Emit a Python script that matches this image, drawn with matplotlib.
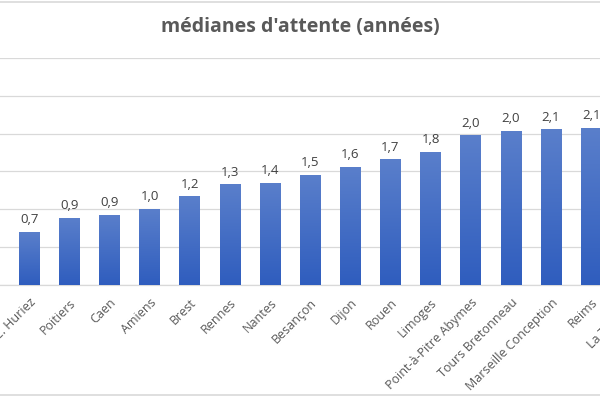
"""
Bar chart: médianes d'attente (années) par centre, style Excel avec dégradé.
"""

import matplotlib
matplotlib.use("Agg")
import matplotlib.pyplot as plt
import numpy as np
from matplotlib.colors import LinearSegmentedColormap
from matplotlib.lines import Line2D

# data (the first and last bars are cut off by the frame of the original picture)
centres = [
    "Lille", "Lille C. Huriez", "Poitiers", "Caen", "Amiens", "Brest", "Rennes",
    "Nantes", "Besançon", "Dijon", "Rouen", "Limoges", "Point-à-Pitre Abymes",
    "Tours Bretonneau", "Marseille Conception", "Reims", "La Tronche",
]
medianes = [0.66, 0.70, 0.89, 0.93, 1.01, 1.17, 1.33, 1.35, 1.46, 1.56, 1.66,
            1.76, 1.98, 2.04, 2.06, 2.08, 2.2]
y_ticks = [0, 0.5, 1.0, 1.5, 2.0, 2.5, 3.0]

GRID = "#D9D9D9"
TEXT = "#595959"
grad = LinearSegmentedColormap.from_list("bar", ["#2F5DBE", "#5A7FCB"])

fig = plt.figure(figsize=(6.0, 3.98), dpi=100)
# axes wider than the figure: the source is a crop of a larger chart
ax = fig.add_axes([-0.0518, 0.2839, 1.1373, 0.5704])

x = np.arange(len(centres))
bars = ax.bar(x, medianes, width=0.51, color="#4472C4", zorder=2)

# vertical gradient drawn inside each bar
ramp = np.linspace(0, 1, 256).reshape(-1, 1)
for b in bars:
    x0, y0 = b.get_x(), b.get_y()
    im = ax.imshow(ramp, cmap=grad, origin="lower", aspect="auto",
                   extent=(x0, x0 + b.get_width(), y0, y0 + b.get_height()),
                   zorder=3)
    im.set_clip_path(b)

labels = [f"{v:.1f}".replace(".", ",") for v in medianes]
ax.bar_label(bars, labels=labels, padding=4, fontsize=9.5, color="#404040",
             family="Open Sans")

ax.set_xlim(-0.5, len(centres) - 0.5)
ax.set_ylim(0, 3.0)
ax.set_yticks(y_ticks)
ax.set_xticks(x)
ax.set_xticklabels(centres, rotation=45, ha="right", rotation_mode="anchor",
                   fontsize=9, color=TEXT, family="Open Sans")
ax.tick_params(axis="x", length=0, pad=8)
ax.tick_params(axis="y", length=0, labelleft=False)
ax.grid(axis="y", color=GRID, linewidth=0.9, zorder=0)
for side in ["top", "left", "right"]:
    ax.spines[side].set_visible(False)
ax.spines["bottom"].set_color(GRID)
ax.spines["bottom"].set_linewidth(0.9)
ax.set_facecolor("white")

fig.text(0.5, 0.932, "médianes d'attente (années)", ha="center", va="center",
         fontsize=14, fontweight="bold", color=TEXT, family="Open Sans")

# outer chart border (only top and bottom edges are inside the crop)
fig.add_artist(Line2D([0, 1], [0.996, 0.996], color=GRID, linewidth=1.2))
fig.add_artist(Line2D([0, 1], [0.008, 0.008], color=GRID, linewidth=1.2))

fig.savefig("out.png", dpi=100)
